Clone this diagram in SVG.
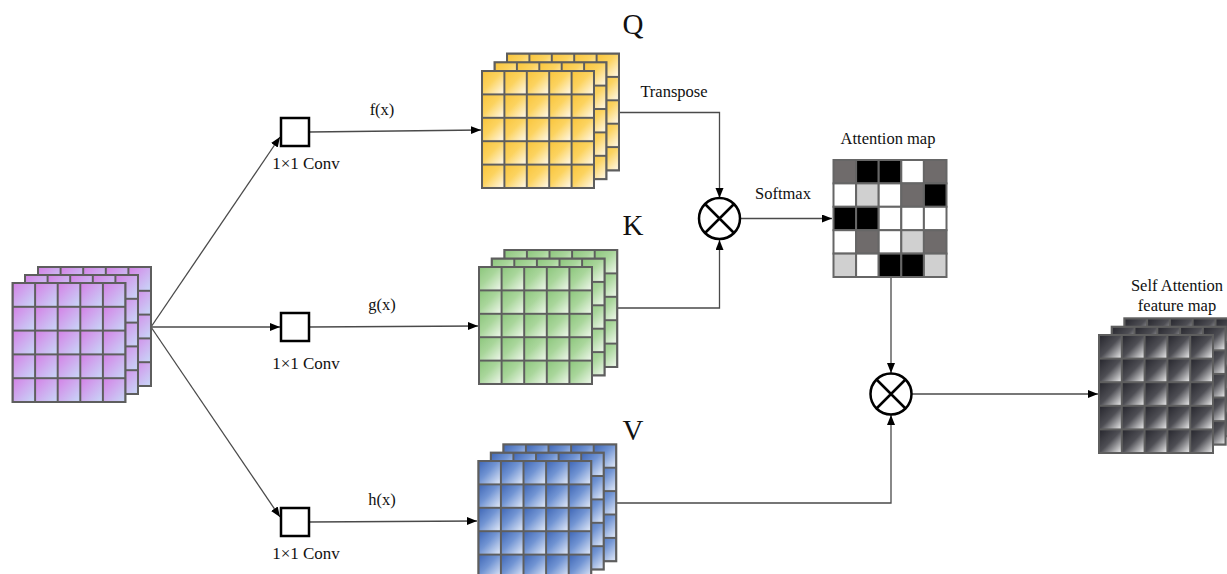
<svg xmlns="http://www.w3.org/2000/svg" width="1227" height="574" viewBox="0 0 1227 574">
  <style>
    text { font-family: "Liberation Serif", "Times New Roman", serif; fill: #111; }
    .lbl { font-size: 16.5px; }
    .conv-lbl { font-size: 17px; }
    .big { font-size: 29px; }
    .wire { fill: none; stroke: #4a4a4a; stroke-width: 1.3; }
    .layer { stroke: #5e5e5e; stroke-width: 2; }
    .conv { fill: #fff; stroke: #000; stroke-width: 2.5; }
    .op { fill: #fff; stroke: #000; stroke-width: 2.5; }
    .cell { stroke: #666; stroke-width: 2; }
  </style>
  <defs>
    <marker id="arrow" markerUnits="userSpaceOnUse" markerWidth="11" markerHeight="9" refX="10" refY="4" orient="auto">
      <path d="M0,0 L10,4 L0,8 z" fill="#000"/>
    </marker>

    <linearGradient id="gPurple" x1="0" y1="0" x2="1" y2="1">
      <stop offset="0" stop-color="#d480e6"/>
      <stop offset="1" stop-color="#c8d9f8"/>
    </linearGradient>
    <linearGradient id="gYellow" x1="0" y1="0" x2="1" y2="1">
      <stop offset="0" stop-color="#f9c43a"/>
      <stop offset="0.45" stop-color="#fcd35f"/>
      <stop offset="1" stop-color="#fffbf2"/>
    </linearGradient>
    <linearGradient id="gGreen" x1="0" y1="0" x2="1" y2="1">
      <stop offset="0" stop-color="#8cc67c"/>
      <stop offset="0.45" stop-color="#a9d69b"/>
      <stop offset="1" stop-color="#f2f9ef"/>
    </linearGradient>
    <linearGradient id="gBlue" x1="0" y1="0" x2="1" y2="1">
      <stop offset="0" stop-color="#3d65b5"/>
      <stop offset="0.45" stop-color="#7194d3"/>
      <stop offset="1" stop-color="#e8eefa"/>
    </linearGradient>
    <linearGradient id="gDark" x1="0" y1="0" x2="1" y2="1">
      <stop offset="0" stop-color="#25252c"/>
      <stop offset="0.5" stop-color="#4e4e54"/>
      <stop offset="1" stop-color="#f4f4f4"/>
    </linearGradient>

    <!-- one grid cell per tile; tiles share edges so grid lines come out 2px -->
    <pattern id="pPurple" patternUnits="userSpaceOnUse" width="22.6" height="23.8">
      <rect width="22.6" height="23.8" fill="url(#gPurple)" stroke="#5e5e5e" stroke-width="2"/>
    </pattern>
    <pattern id="pYellow" patternUnits="userSpaceOnUse" width="22.4" height="23.4">
      <rect width="22.4" height="23.4" fill="url(#gYellow)" stroke="#5e5e5e" stroke-width="2"/>
    </pattern>
    <pattern id="pGreen" patternUnits="userSpaceOnUse" width="22.6" height="23.4">
      <rect width="22.6" height="23.4" fill="url(#gGreen)" stroke="#5e5e5e" stroke-width="2"/>
    </pattern>
    <pattern id="pBlue" patternUnits="userSpaceOnUse" width="22.6" height="23.4">
      <rect width="22.6" height="23.4" fill="url(#gBlue)" stroke="#5e5e5e" stroke-width="2"/>
    </pattern>
    <pattern id="pDark" patternUnits="userSpaceOnUse" width="22.8" height="23.6">
      <rect width="22.8" height="23.6" fill="url(#gDark)" stroke="#5e5e5e" stroke-width="2"/>
    </pattern>
  </defs>

  <rect width="1227" height="574" fill="#fff"/>

  <!-- connectors -->
  <g id="connectors">
    <path class="wire" d="M151,327 L280,137" marker-end="url(#arrow)"/>
    <path class="wire" d="M151,327 L280,327" marker-end="url(#arrow)"/>
    <path class="wire" d="M151,327 L280,517" marker-end="url(#arrow)"/>
    <path class="wire" d="M309,132 L481,130" marker-end="url(#arrow)"/>
    <path class="wire" d="M309,327 L478,326" marker-end="url(#arrow)"/>
    <path class="wire" d="M309,522 L477,521" marker-end="url(#arrow)"/>
    <path class="wire" d="M619,112.5 L719.5,112.5 L719.5,198" marker-end="url(#arrow)"/>
    <path class="wire" d="M617,308 L719.5,308 L719.5,240" marker-end="url(#arrow)"/>
    <path class="wire" d="M741,218.5 L832,218.5" marker-end="url(#arrow)"/>
    <path class="wire" d="M891,278 L891,373" marker-end="url(#arrow)"/>
    <path class="wire" d="M617,503 L891,503 L891,415" marker-end="url(#arrow)"/>
    <path class="wire" d="M912,394 L1098,394" marker-end="url(#arrow)"/>
  </g>

  <!-- input feature map -->
  <g id="input">
    <g transform="translate(38,267)"><rect class="layer" width="113" height="119" fill="url(#pPurple)"/></g>
    <g transform="translate(25,275)"><rect class="layer" width="113" height="119" fill="url(#pPurple)"/></g>
    <g transform="translate(12.5,283)"><rect class="layer" width="113" height="119" fill="url(#pPurple)"/></g>
  </g>

  <!-- 1x1 convolutions -->
  <g id="conv-f">
    <rect class="conv" x="281" y="118" width="28" height="28"/>
    <text class="conv-lbl" x="306" y="169" text-anchor="middle">1×1 Conv</text>
    <text class="lbl" x="382" y="115" text-anchor="middle">f(x)</text>
  </g>
  <g id="conv-g">
    <rect class="conv" x="281" y="313" width="28" height="28"/>
    <text class="conv-lbl" x="306" y="369" text-anchor="middle">1×1 Conv</text>
    <text class="lbl" x="382" y="310" text-anchor="middle">g(x)</text>
  </g>
  <g id="conv-h">
    <rect class="conv" x="281" y="508" width="28" height="28"/>
    <text class="conv-lbl" x="306" y="559" text-anchor="middle">1×1 Conv</text>
    <text class="lbl" x="382" y="505" text-anchor="middle">h(x)</text>
  </g>

  <!-- query -->
  <g id="query">
    <g transform="translate(507,53.5)"><rect class="layer" width="112" height="117" fill="url(#pYellow)"/></g>
    <g transform="translate(494.5,62.2)"><rect class="layer" width="112" height="117" fill="url(#pYellow)"/></g>
    <g transform="translate(482,71)"><rect class="layer" width="112" height="117" fill="url(#pYellow)"/></g>
    <text class="big" x="633" y="34" text-anchor="middle">Q</text>
    <text class="lbl" x="674" y="97" text-anchor="middle">Transpose</text>
  </g>

  <!-- key -->
  <g id="key">
    <g transform="translate(504.3,250)"><rect class="layer" width="113" height="117" fill="url(#pGreen)"/></g>
    <g transform="translate(491.7,258.5)"><rect class="layer" width="113" height="117" fill="url(#pGreen)"/></g>
    <g transform="translate(479,267)"><rect class="layer" width="113" height="117" fill="url(#pGreen)"/></g>
    <text class="big" x="633" y="235" text-anchor="middle">K</text>
  </g>

  <!-- value -->
  <g id="value">
    <g transform="translate(503.3,444.3)"><rect class="layer" width="113" height="117" fill="url(#pBlue)"/></g>
    <g transform="translate(490.8,452.6)"><rect class="layer" width="113" height="117" fill="url(#pBlue)"/></g>
    <g transform="translate(478.3,461)"><rect class="layer" width="113" height="117" fill="url(#pBlue)"/></g>
    <text class="big" x="633" y="440" text-anchor="middle">V</text>
  </g>

  <!-- matrix multiply Q^T K -->
  <g id="mul-qk">
    <circle class="op" cx="719.5" cy="218.5" r="20.5"/>
    <path d="M705,204 L734,233 M734,204 L705,233" stroke="#000" stroke-width="2.5"/>
    <text class="lbl" x="783" y="199" text-anchor="middle">Softmax</text>
  </g>

  <!-- attention map -->
  <g id="attention-map">
    <text class="lbl" x="888" y="144" text-anchor="middle">Attention map</text>
    <g class="cell" transform="translate(833.5,160)">
      <rect x="0" y="0" width="22.6" height="23.4" fill="#6f6b6b"/>
      <rect x="22.6" y="0" width="22.6" height="23.4" fill="#000"/>
      <rect x="45.2" y="0" width="22.6" height="23.4" fill="#000"/>
      <rect x="67.8" y="0" width="22.6" height="23.4" fill="#fff"/>
      <rect x="90.4" y="0" width="22.6" height="23.4" fill="#6f6b6b"/>

      <rect x="0" y="23.4" width="22.6" height="23.4" fill="#fff"/>
      <rect x="22.6" y="23.4" width="22.6" height="23.4" fill="#d0d0d0"/>
      <rect x="45.2" y="23.4" width="22.6" height="23.4" fill="#fff"/>
      <rect x="67.8" y="23.4" width="22.6" height="23.4" fill="#6f6b6b"/>
      <rect x="90.4" y="23.4" width="22.6" height="23.4" fill="#000"/>

      <rect x="0" y="46.8" width="22.6" height="23.4" fill="#000"/>
      <rect x="22.6" y="46.8" width="22.6" height="23.4" fill="#000"/>
      <rect x="45.2" y="46.8" width="22.6" height="23.4" fill="#fff"/>
      <rect x="67.8" y="46.8" width="22.6" height="23.4" fill="#fff"/>
      <rect x="90.4" y="46.8" width="22.6" height="23.4" fill="#fff"/>

      <rect x="0" y="70.2" width="22.6" height="23.4" fill="#fff"/>
      <rect x="22.6" y="70.2" width="22.6" height="23.4" fill="#6f6b6b"/>
      <rect x="45.2" y="70.2" width="22.6" height="23.4" fill="#fff"/>
      <rect x="67.8" y="70.2" width="22.6" height="23.4" fill="#d0d0d0"/>
      <rect x="90.4" y="70.2" width="22.6" height="23.4" fill="#6f6b6b"/>

      <rect x="0" y="93.6" width="22.6" height="23.4" fill="#d0d0d0"/>
      <rect x="22.6" y="93.6" width="22.6" height="23.4" fill="#fff"/>
      <rect x="45.2" y="93.6" width="22.6" height="23.4" fill="#000"/>
      <rect x="67.8" y="93.6" width="22.6" height="23.4" fill="#000"/>
      <rect x="90.4" y="93.6" width="22.6" height="23.4" fill="#d0d0d0"/>
    </g>
  </g>

  <!-- matrix multiply with V -->
  <g id="mul-v">
    <circle class="op" cx="891" cy="394" r="20.5"/>
    <path d="M876.5,379.5 L905.5,408.5 M905.5,379.5 L876.5,408.5" stroke="#000" stroke-width="2.5"/>
  </g>

  <!-- output feature map -->
  <g id="output">
    <g transform="translate(1124.3,318.3)"><rect class="layer" width="114" height="118" fill="url(#pDark)"/></g>
    <g transform="translate(1111.7,326.7)"><rect class="layer" width="114" height="118" fill="url(#pDark)"/></g>
    <g transform="translate(1099,335)"><rect class="layer" width="114" height="118" fill="url(#pDark)"/></g>
    <text class="lbl" x="1177" y="291" text-anchor="middle">Self Attention</text>
    <text class="lbl" x="1177" y="311" text-anchor="middle">feature map</text>
  </g>
</svg>
